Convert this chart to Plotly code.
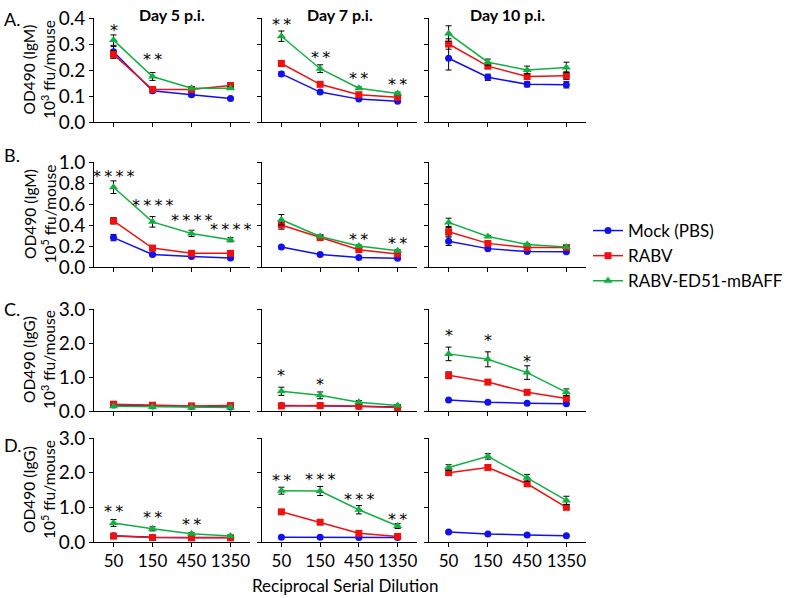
import plotly.graph_objects as go
from plotly.subplots import make_subplots

dilutions = ["50", "150", "450", "1350"]
days = ["Day 5 p.i.", "Day 7 p.i.", "Day 10 p.i."]
groups = ["Mock (PBS)", "RABV", "RABV-ED51-mBAFF"]
colors = ["#1010F0", "#F01010", "#10B040"]
symbols = ["circle", "square", "triangle-up"]

# every list below: [Day 5, Day 7, Day 10], each with the 4 dilutions
# A. IgM, 10^3 ffu/mouse
igm3_mock = [[0.27, 0.12, 0.105, 0.09], [0.185, 0.115, 0.088, 0.08], [0.245, 0.172, 0.145, 0.143]]
igm3_mock_err = [[0.02, 0.008, 0.006, 0.004], [0.008, 0.005, 0.004, 0.004], [0.045, 0.012, 0.01, 0.012]]
igm3_rabv = [[0.26, 0.125, 0.125, 0.14], [0.225, 0.145, 0.105, 0.095], [0.30, 0.215, 0.175, 0.178]]
igm3_rabv_err = [[0.015, 0.006, 0.01, 0.01], [0.012, 0.008, 0.006, 0.006], [0.02, 0.01, 0.012, 0.015]]
igm3_baff = [[0.315, 0.175, 0.13, 0.13], [0.33, 0.205, 0.13, 0.11], [0.34, 0.23, 0.20, 0.21]]
igm3_baff_err = [[0.02, 0.015, 0.005, 0.005], [0.02, 0.015, 0.005, 0.005], [0.03, 0.012, 0.015, 0.02]]

# B. IgM, 10^5 ffu/mouse
igm5_mock = [[0.28, 0.12, 0.10, 0.085], [0.19, 0.12, 0.09, 0.083], [0.245, 0.175, 0.147, 0.145]]
igm5_mock_err = [[0.03, 0.01, 0.01, 0.01], [0.01, 0.01, 0.01, 0.01], [0.04, 0.015, 0.01, 0.01]]
igm5_rabv = [[0.44, 0.18, 0.13, 0.13], [0.40, 0.28, 0.165, 0.125], [0.335, 0.225, 0.185, 0.185]]
igm5_rabv_err = [[0.03, 0.01, 0.01, 0.01], [0.04, 0.01, 0.01, 0.01], [0.04, 0.01, 0.01, 0.01]]
igm5_baff = [[0.76, 0.43, 0.32, 0.26], [0.45, 0.29, 0.20, 0.155], [0.425, 0.29, 0.215, 0.19]]
igm5_baff_err = [[0.06, 0.05, 0.03, 0.02], [0.05, 0.01, 0.01, 0.01], [0.04, 0.01, 0.01, 0.01]]

# C. IgG, 10^3 ffu/mouse
igg3_mock = [[0.18, 0.15, 0.13, 0.12], [0.16, 0.16, 0.14, 0.12], [0.32, 0.26, 0.23, 0.21]]
igg3_mock_err = [[0.02, 0.01, 0.01, 0.01], [0.02, 0.02, 0.01, 0.01], [0.02, 0.02, 0.01, 0.01]]
igg3_rabv = [[0.20, 0.17, 0.15, 0.16], [0.15, 0.16, 0.14, 0.10], [1.05, 0.85, 0.55, 0.37]]
igg3_rabv_err = [[0.02, 0.01, 0.01, 0.01], [0.02, 0.02, 0.01, 0.01], [0.1, 0.07, 0.07, 0.05]]
igg3_baff = [[0.14, 0.12, 0.10, 0.10], [0.58, 0.46, 0.26, 0.16], [1.68, 1.52, 1.13, 0.55]]
igg3_baff_err = [[0.02, 0.01, 0.01, 0.01], [0.12, 0.1, 0.05, 0.02], [0.2, 0.22, 0.2, 0.1]]

# D. IgG, 10^5 ffu/mouse
igg5_mock = [[0.18, 0.14, 0.13, 0.13], [0.135, 0.135, 0.13, 0.13], [0.29, 0.23, 0.20, 0.18]]
igg5_mock_err = [[0.02, 0.02, 0.01, 0.01], [0.01, 0.01, 0.01, 0.01], [0.02, 0.01, 0.01, 0.01]]
igg5_rabv = [[0.17, 0.13, 0.12, 0.12], [0.87, 0.57, 0.25, 0.16], [2.0, 2.15, 1.68, 1.0]]
igg5_rabv_err = [[0.02, 0.01, 0.01, 0.01], [0.06, 0.06, 0.04, 0.02], [0.05, 0.06, 0.06, 0.06]]
igg5_baff = [[0.55, 0.38, 0.24, 0.17], [1.48, 1.47, 0.93, 0.46], [2.15, 2.47, 1.85, 1.2]]
igg5_baff_err = [[0.1, 0.06, 0.03, 0.02], [0.1, 0.13, 0.12, 0.07], [0.08, 0.08, 0.1, 0.12]]

# significance marks: (day index, dilution, height, number of stars)
igm3_stars = [(0, "50", 0.365, 1), (0, "150", 0.25, 2),
              (1, "50", 0.385, 2), (1, "150", 0.258, 2),
              (1, "450", 0.177, 2), (1, "1350", 0.154, 2)]
igm5_stars = [(0, "50", 0.895, 4), (0, "150", 0.61, 4),
              (0, "450", 0.47, 4), (0, "1350", 0.39, 4),
              (1, "450", 0.295, 2), (1, "1350", 0.25, 2)]
igg3_stars = [(1, "50", 1.12, 1), (1, "150", 0.88, 1),
              (2, "50", 2.32, 1), (2, "150", 2.15, 1), (2, "450", 1.53, 1)]
igg5_stars = [(0, "50", 0.98, 2), (0, "150", 0.78, 2), (0, "450", 0.58, 2),
              (1, "50", 1.85, 2), (1, "150", 1.88, 3),
              (1, "450", 1.3, 3), (1, "1350", 0.75, 2)]

rows = [
    ("A.", "OD490 (IgM)<br>10<sup>3</sup> ffu/mouse", [0, 0.4], 0.1,
     [igm3_mock, igm3_rabv, igm3_baff], [igm3_mock_err, igm3_rabv_err, igm3_baff_err], igm3_stars),
    ("B.", "OD490 (IgM)<br>10<sup>5</sup> ffu/mouse", [0, 1.0], 0.2,
     [igm5_mock, igm5_rabv, igm5_baff], [igm5_mock_err, igm5_rabv_err, igm5_baff_err], igm5_stars),
    ("C.", "OD490 (IgG)<br>10<sup>3</sup> ffu/mouse", [0, 3.0], 1.0,
     [igg3_mock, igg3_rabv, igg3_baff], [igg3_mock_err, igg3_rabv_err, igg3_baff_err], igg3_stars),
    ("D.", "OD490 (IgG)<br>10<sup>5</sup> ffu/mouse", [0, 3.0], 1.0,
     [igg5_mock, igg5_rabv, igg5_baff], [igg5_mock_err, igg5_rabv_err, igg5_baff_err], igg5_stars),
]

W, H = 791, 598
col_px = [(94, 250), (262, 417), (429, 586)]
row_px = [(18, 122), (162, 267), (309, 411), (438, 542)]
letter_y = [19, 155, 309, 445]
FONT = "Lato, Open Sans, sans-serif"
STAR_FONT = "DejaVu Sans"


def px_x(v):
    return v / W


def px_y(v):
    return 1 - v / H


fig = make_subplots(rows=4, cols=3)
annotations = []

for r, (letter, ylabel, yrange, dtick, series, errors, stars) in enumerate(rows):
    y0, y1 = row_px[r]
    for c in range(3):
        for g in range(3):
            fig.add_trace(go.Scatter(
                x=dilutions, y=series[g][c],
                mode="lines+markers",
                name=groups[g],
                showlegend=(r == 0 and c == 0),
                line=dict(color=colors[g], width=1.5),
                marker=dict(symbol=symbols[g], size=7 if g < 2 else 8, color=colors[g]),
                error_y=dict(type="data", array=errors[g][c], color="black", thickness=1, width=3),
            ), row=r + 1, col=c + 1)
        x0, x1 = col_px[c]
        fig.update_xaxes(
            domain=[px_x(x0), px_x(x1)], type="category", range=[-0.5, 3.5],
            showline=True, linecolor="black", linewidth=1, showgrid=False, zeroline=False,
            ticks="outside", ticklen=4, tickcolor="black", ticklabeloverflow="allow",
            showticklabels=(r == 3), tickfont=dict(size=17, color="black", family=FONT),
            row=r + 1, col=c + 1)
        fig.update_yaxes(
            domain=[px_y(y1), px_y(y0)], range=yrange, dtick=dtick, tickformat=".1f",
            showline=True, linecolor="black", linewidth=1, showgrid=False, zeroline=False,
            ticks="outside", ticklen=4, tickcolor="black", ticklabeloverflow="allow",
            showticklabels=(c == 0), tickfont=dict(size=19, color="black", family=FONT),
            row=r + 1, col=c + 1)

    for c, dil, yv, n in stars:
        ax = r * 3 + c + 1
        sfx = "" if ax == 1 else str(ax)
        annotations.append(dict(
            x=dilutions.index(dil), y=yv, xref="x" + sfx, yref="y" + sfx,
            text="\u2009".join(["*"] * n),
            showarrow=False, xanchor="center", yanchor="middle", yshift=-3,
            font=dict(size=16, color="black", family=STAR_FONT)))

    annotations.append(dict(
        x=px_x(2), y=px_y(letter_y[r]), xref="paper", yref="paper", text=letter,
        xanchor="left", yanchor="middle", showarrow=False,
        font=dict(size=18, color="black", family=FONT)))
    annotations.append(dict(
        x=px_x(39), y=px_y((y0 + y1) / 2), xref="paper", yref="paper", text=ylabel,
        textangle=-90, xanchor="center", yanchor="middle", showarrow=False,
        font=dict(size=15.5, color="black", family=FONT)))

for c, day in enumerate(days):
    x0, x1 = col_px[c]
    annotations.append(dict(
        x=px_x((x0 + x1) / 2), y=px_y(15), xref="paper", yref="paper",
        text="<b>" + day + "</b>", xanchor="center", yanchor="middle", showarrow=False,
        font=dict(size=16, color="black", family=FONT)))

annotations.append(dict(
    x=px_x(345), y=px_y(585), xref="paper", yref="paper", text="Reciprocal Serial Dilution",
    xanchor="center", yanchor="middle", showarrow=False,
    font=dict(size=17, color="black", family=FONT)))

fig.update_layout(
    width=W, height=H,
    margin=dict(l=0, r=0, t=0, b=0, autoexpand=False),
    paper_bgcolor="white", plot_bgcolor="white",
    annotations=annotations,
    legend=dict(x=px_x(588), y=px_y(256), xanchor="left", yanchor="middle",
                font=dict(size=17, color="black", family=FONT),
                bgcolor="rgba(0,0,0,0)", tracegroupgap=0, itemwidth=30),
)

# drop the browser's default 8px body margin so the figure fills the window
fig.write_html("out.html", config={"displayModeBar": False},
               post_script="document.body.style.margin = '0px';")
